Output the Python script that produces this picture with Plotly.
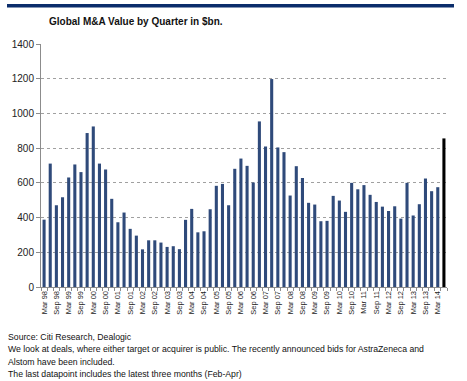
import plotly.graph_objects as go

# ---- data ----
years = [f"{y:02d}" for y in list(range(98, 100)) + list(range(0, 15))]
months = ["Mar", "Jun", "Sep", "Dec"]
quarters = [f"{m} {y}" for y in years for m in months][:65] + ["Feb-Apr 14"]

values = [388, 711, 471, 517, 631, 706, 662, 887, 925, 711, 677, 508,
          373, 429, 335, 296, 217, 269, 269, 256, 231, 235, 218, 387,
          450, 315, 321, 448, 583, 594, 471, 681, 740, 698, 602, 954,
          810, 1198, 804, 777, 527, 696, 628, 485, 475, 379, 381, 525,
          498, 433, 600, 563, 587, 531, 490, 463, 438, 465, 394, 600,
          412, 477, 625, 552, 575, 856]

tick_labels = [q if q.startswith(("Mar", "Sep")) else "" for q in quarters]

y_ticks = [0, 200, 400, 600, 800, 1000, 1200, 1400]

title_text = "Global M&A Value by Quarter in $bn."
notes = [
    "Source: Citi Research, Dealogic",
    "We look at deals, where either target or acquirer is public. The recently announced bids for AstraZeneca and",
    "Alstom have been included.",
    "The last datapoint includes the latest three months (Feb-Apr)",
]

BLUE = "#2f4a7a"
colors = [BLUE] * (len(values) - 1) + ["#000000"]

ARIAL = "Liberation Sans, Arial, sans-serif"

fig = go.Figure(go.Bar(x=quarters, y=values, marker_color=colors, marker_line_width=0))

W, H = 467, 381
L, R, T, B = 41, 20, 44, 94
pw, ph = W - L - R, H - T - B

def px_x(px):
    return (px - L) / pw

def px_y(py):
    return (H - B - py) / ph

fig.update_layout(
    width=W, height=H,
    margin=dict(l=L, r=R, t=T, b=B, pad=0),
    paper_bgcolor="white", plot_bgcolor="white",
    bargap=0.5, showlegend=False,
    font=dict(family=ARIAL, size=10, color="#222"),
    xaxis=dict(
        type="category", tickmode="array", tickvals=quarters, ticktext=tick_labels,
        tickangle=-90, tickfont=dict(family=ARIAL, size=7.5, color="#222"),
        showline=True, linecolor="#8c8c8c", linewidth=1,
        ticks="outside", ticklen=3, tickcolor="#8c8c8c", tickson="boundaries",
        showgrid=False, range=[-0.5, len(quarters) - 0.5],
    ),
    yaxis=dict(
        range=[0, 1400], tickvals=y_ticks, tickfont=dict(family=ARIAL, size=10, color="#222"),
        showline=True, linecolor="#8c8c8c", linewidth=1,
        ticks="outside", ticklen=4, tickcolor="#8c8c8c",
        showgrid=True, gridcolor="#a0a0a0", gridwidth=1, griddash="dot",
        zeroline=False,
    ),
    shapes=[dict(type="rect", xref="paper", yref="paper",
                 x0=px_x(7), x1=px_x(454), y0=px_y(7.5), y1=px_y(4),
                 fillcolor="#0b2d6b", line_width=0, layer="above")],
)

fig.add_annotation(text=f"<b>{title_text}</b>", xref="paper", yref="paper",
                   x=px_x(136), y=px_y(22), xanchor="center", yanchor="middle",
                   showarrow=False, font=dict(family=ARIAL, size=10, color="#111"))

for i, line in enumerate(notes):
    fig.add_annotation(text=line, xref="paper", yref="paper",
                       x=px_x(6), y=px_y(336.5 + i * 12.6), xanchor="left", yanchor="middle",
                       showarrow=False, font=dict(family=ARIAL, size=8.7, color="#111"))

fig.write_html("out.html", config={"displayModeBar": False},
               post_script="document.body.style.margin='0';document.body.style.overflow='hidden';")
